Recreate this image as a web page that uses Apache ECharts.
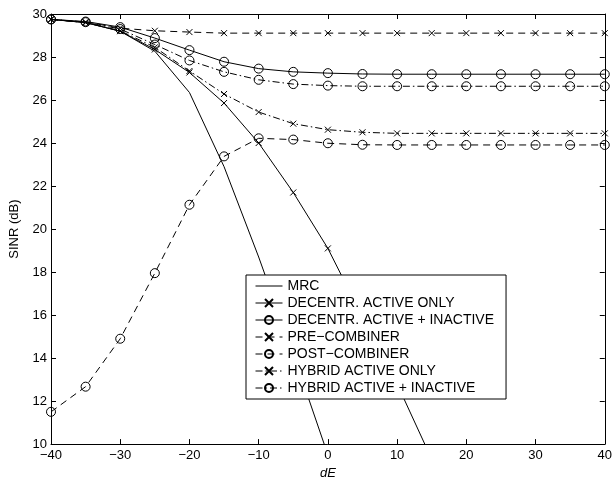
<!DOCTYPE html>
<html>
<head>
<meta charset="utf-8">
<script src="https://cdn.jsdelivr.net/npm/echarts@6/dist/echarts.min.js"></script>
<style>
    html, body { margin: 0; padding: 0; background: #fff; }
    #chart { width: 615px; height: 485px; }
</style>
</head>
<body>
<div id="chart"></div>
<script>
const dE = [-40, -35, -30, -25, -20, -15, -10, -5, 0, 5, 10, 15, 20, 25, 30, 35, 40];

const mrc = [29.75, 29.6, 29.2, 28.27, 26.35, 22.9, 18.7, 14.2, 9.5];
const decentrActive = [29.75, 29.6, 29.2, 28.35, 27.28, 25.86, 24.0, 21.7, 19.1, 15.9, 12.8, 9.3];
const decentrAll = [29.75, 29.65, 29.39, 28.88, 28.32, 27.78, 27.46, 27.31, 27.25, 27.21, 27.2, 27.2, 27.2, 27.2, 27.2, 27.2, 27.2];
const preCombiner = [29.75, 29.63, 29.34, 29.22, 29.16, 29.11, 29.11, 29.11, 29.11, 29.11, 29.11, 29.11, 29.11, 29.11, 29.11, 29.11, 29.11];
const postCombiner = [11.5, 12.67, 14.9, 17.95, 21.13, 23.38, 24.22, 24.16, 23.99, 23.92, 23.91, 23.91, 23.91, 23.91, 23.91, 23.91, 23.91];
const hybridActive = [29.75, 29.6, 29.22, 28.45, 27.35, 26.28, 25.44, 24.9, 24.62, 24.5, 24.45, 24.45, 24.45, 24.45, 24.45, 24.45, 24.45];
const hybridAll = [29.75, 29.62, 29.3, 28.58, 27.84, 27.31, 26.94, 26.74, 26.67, 26.64, 26.64, 26.64, 26.64, 26.64, 26.64, 26.64, 26.64];

const crossSymbol = "path://M0 0L10 10M10 0L0 10";
const dashed = [7, 5];
const dashDot = [7, 3, 1.5, 3];

function pairs(values) {
    return values.map((v, i) => [dE[i], v]);
}

function makeSeries(name, values, symbol, type) {
    const isCross = symbol === "cross";
    const noMarker = symbol === "none";
    return {
        name,
        type: "line",
        data: pairs(values),
        clip: true,
        symbol: isCross ? crossSymbol : "circle",
        symbolSize: isCross ? 6 : 9,
        showSymbol: !noMarker,
        lineStyle: { color: "#000", width: 1, type },
        itemStyle: {
            color: "rgba(255,255,255,0)",
            borderColor: noMarker ? "rgba(0,0,0,0)" : "#000",
            borderWidth: noMarker ? 0 : 1
        },
        emphasis: { disabled: true },
        animation: false
    };
}

const chart = echarts.init(document.getElementById("chart"), null, { renderer: "canvas" });

const fontFamily = "Liberation Sans, Arial, sans-serif";
const axisFont = { color: "#000", fontFamily, fontSize: 13 };

chart.setOption({
    backgroundColor: "#fff",
    animation: false,
    grid: { left: 50, right: 10, top: 14, bottom: 35 },
    legend: {
        orient: "vertical",
        left: 246,
        top: 275,
        padding: [4, 12, 4, 9],
        itemGap: 3,
        itemWidth: 27,
        itemHeight: 10,
        backgroundColor: "#fff",
        borderColor: "#000",
        borderWidth: 1,
        borderRadius: 0,
        lineStyle: { width: 1 },
        textStyle: { color: "#000", fontFamily, fontSize: 14 },
        selectedMode: false
    },
    xAxis: [
        {
            type: "value",
            min: -40,
            max: 40,
            interval: 10,
            name: "dE",
            nameLocation: "middle",
            nameGap: 22,
            nameTextStyle: { ...axisFont, fontStyle: "italic" },
            axisLine: { onZero: false, lineStyle: { color: "#000", width: 1 } },
            axisTick: { inside: true, length: 5, lineStyle: { color: "#000" } },
            axisLabel: { ...axisFont, margin: 5, formatter: v => (v < 0 ? "\u2212" + Math.abs(v) : String(v)) },
            splitLine: { show: false }
        },
        {
            type: "value",
            position: "top",
            min: -40,
            max: 40,
            interval: 10,
            axisLine: { onZero: false, lineStyle: { color: "#000", width: 1 } },
            axisTick: { inside: true, length: 5, lineStyle: { color: "#000" } },
            axisLabel: { show: false },
            splitLine: { show: false }
        }
    ],
    yAxis: [
        {
            type: "value",
            min: 10,
            max: 30,
            interval: 2,
            name: "SINR (dB)",
            nameLocation: "middle",
            nameGap: 30,
            nameTextStyle: axisFont,
            axisLine: { show: true, onZero: false, lineStyle: { color: "#000", width: 1 } },
            axisTick: { show: true, inside: true, length: 5, lineStyle: { color: "#000" } },
            axisLabel: { ...axisFont, margin: 4 },
            splitLine: { show: false }
        },
        {
            type: "value",
            position: "right",
            min: 10,
            max: 30,
            interval: 2,
            axisLine: { show: true, onZero: false, lineStyle: { color: "#000", width: 1 } },
            axisTick: { show: true, inside: true, length: 5, lineStyle: { color: "#000" } },
            axisLabel: { show: false },
            splitLine: { show: false }
        }
    ],
    series: [
        makeSeries("MRC", mrc, "none", "solid"),
        makeSeries("DECENTR. ACTIVE ONLY", decentrActive, "cross", "solid"),
        makeSeries("DECENTR. ACTIVE + INACTIVE", decentrAll, "circle", "solid"),
        makeSeries("PRE\u2212COMBINER", preCombiner, "cross", dashed),
        makeSeries("POST\u2212COMBINER", postCombiner, "circle", dashed),
        makeSeries("HYBRID ACTIVE ONLY", hybridActive, "cross", dashDot),
        makeSeries("HYBRID ACTIVE + INACTIVE", hybridAll, "circle", dashDot)
    ]
});
</script>
</body>
</html>
